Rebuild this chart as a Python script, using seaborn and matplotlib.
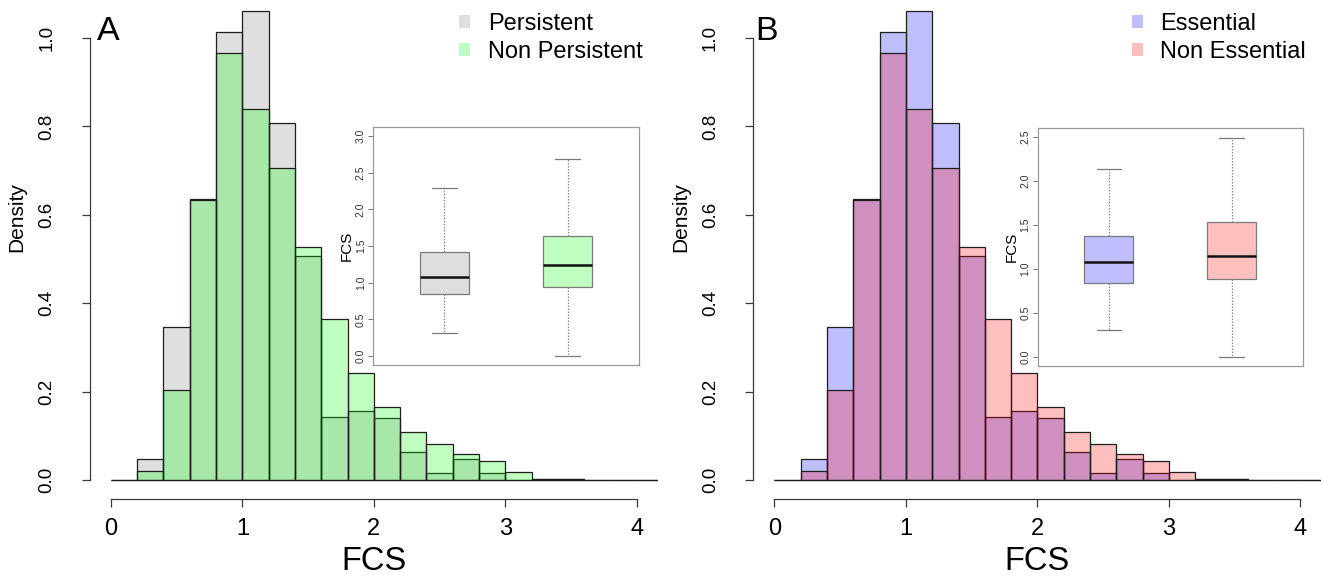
import numpy as np
import pandas as pd
import matplotlib
matplotlib.use("Agg")
import matplotlib.pyplot as plt
import seaborn as sns
from matplotlib.patches import Patch

# ---------------- data ----------------
bin_edges = [0.0, 0.2, 0.4, 0.6, 0.8, 1.0, 1.2, 1.4, 1.6, 1.8, 2.0, 2.2,
             2.4, 2.6, 2.8, 3.0, 3.2, 3.4, 3.6, 3.8, 4.0, 4.2, 4.4]

persistent_density = [0.0, 0.047, 0.347, 0.636, 1.014, 1.062, 0.808, 0.507,
                      0.142, 0.157, 0.141, 0.064, 0.016, 0.047, 0.016, 0.0,
                      0.002, 0.002, 0.0, 0.0, 0.0, 0.0]
nonpersistent_density = [0.0, 0.021, 0.204, 0.634, 0.966, 0.840, 0.707, 0.527,
                         0.365, 0.242, 0.166, 0.108, 0.082, 0.058, 0.044, 0.018,
                         0.002, 0.002, 0.0, 0.0, 0.0, 0.0]

essential_density = [0.0, 0.047, 0.347, 0.636, 1.014, 1.062, 0.808, 0.507,
                     0.142, 0.157, 0.141, 0.064, 0.016, 0.047, 0.016, 0.0,
                     0.002, 0.002, 0.0, 0.0, 0.0, 0.0]
nonessential_density = [0.0, 0.021, 0.204, 0.634, 0.966, 0.840, 0.707, 0.527,
                        0.365, 0.242, 0.166, 0.108, 0.082, 0.058, 0.044, 0.018,
                        0.002, 0.002, 0.0, 0.0, 0.0, 0.0]

# five-number summaries of the inset box plots: min whisker, Q1, median, Q3, max whisker
persistent_box = [0.318, 0.850, 1.082, 1.423, 2.295]
nonpersistent_box = [0.000, 0.945, 1.245, 1.640, 2.680]
essential_box = [0.311, 0.846, 1.081, 1.370, 2.136]
nonessential_box = [0.000, 0.888, 1.153, 1.529, 2.490]

x_ticks = [0, 1, 2, 3, 4]
y_ticks = [0.0, 0.2, 0.4, 0.6, 0.8, 1.0]
inset_a_ticks = [0.0, 0.5, 1.0, 1.5, 2.0, 2.5, 3.0]
inset_b_ticks = [0.0, 0.5, 1.0, 1.5, 2.0, 2.5]

# ---------------- style ----------------
sns.set_theme(style="white")
plt.rcParams["font.family"] = ["Liberation Sans", "DejaVu Sans"]
plt.rcParams["text.color"] = "black"
plt.rcParams["axes.labelcolor"] = "black"
plt.rcParams["xtick.color"] = "black"
plt.rcParams["ytick.color"] = "black"

W, H = 1323, 581
fig = plt.figure(figsize=(W / 100, H / 100), dpi=100)


def px_axes(left, top, right, bottom):
    return fig.add_axes([left / W, 1 - bottom / H, (right - left) / W, (bottom - top) / H])


AX_COL = "#3a3a3a"
EDGE = "#1e1e1e"

GRAY = (0.5, 0.5, 0.5, 0.25)
GREEN = (0.0, 1.0, 0.0, 0.25)
BLUE = (0.0, 0.0, 1.0, 0.25)
RED = (1.0, 0.0, 0.0, 0.25)


def hist_panel(ax, dens1, dens2, c1, c2):
    edges = np.array(bin_edges)
    centers = (edges[:-1] + edges[1:]) / 2
    for dens, col in ((dens1, c1), (dens2, c2)):
        sns.histplot(x=centers, weights=dens, bins=bin_edges, stat="count",
                     color=col[:3], alpha=col[3], edgecolor=EDGE, linewidth=0.9,
                     ax=ax)
    ax.set_xlim(-0.16, 4.16)
    ax.set_ylim(-0.042, 1.086)
    for s in ("top", "right"):
        ax.spines[s].set_visible(False)
    for s in ("left", "bottom"):
        ax.spines[s].set_color(AX_COL)
        ax.spines[s].set_linewidth(0.9)
    ax.spines["left"].set_bounds(0, 1)
    ax.spines["bottom"].set_bounds(0, 4)
    ax.set_xticks(x_ticks)
    ax.set_xticklabels([str(t) for t in x_ticks], fontsize=17)
    ax.set_yticks(y_ticks)
    ax.set_yticklabels([f"{t:.1f}" for t in y_ticks], fontsize=13.5,
                       rotation=90, va="center")
    ax.tick_params(axis="both", direction="out", length=5.8, width=0.9,
                   color=AX_COL, labelcolor="black", left=True, bottom=True)
    ax.tick_params(axis="y", pad=19)
    ax.tick_params(axis="x", pad=8)
    ax.set_xlabel("FCS", fontsize=23.5, color="black")
    ax.set_ylabel("Density", fontsize=15, color="black")
    ax.xaxis.set_label_coords(0.5, -0.095)
    ax.yaxis.set_label_coords(-0.112, 0.565)
    ax.grid(False)


def inset_panel(ax, box1, box2, c1, c2, ticks, ylim):
    df = pd.DataFrame({
        "group": ["g1"] * len(box1) + ["g2"] * len(box2),
        "FCS": list(box1) + list(box2),
    })
    sns.boxplot(data=df, x="group", y="FCS", hue="group",
                palette=[c1, c2], saturation=1, width=0.4, whis=(0, 100),
                linecolor="#7a7a7a", linewidth=0.9, legend=False, ax=ax,
                whiskerprops=dict(linestyle=(0, (1.2, 1.2)), color="#8a8a8a"),
                medianprops=dict(color="#111111", linewidth=1.8),
                capprops=dict(color="#7a7a7a"))
    ax.set_xlim(-0.58, 1.58)
    ax.set_ylim(*ylim)
    ax.set_facecolor("white")
    for s in ax.spines.values():
        s.set_visible(True)
        s.set_color("#9a9a9a")
        s.set_linewidth(0.9)
    ax.set_xticks([])
    ax.set_xlabel("")
    ax.set_yticks(ticks)
    ax.set_yticklabels([f"{t:.1f}" for t in ticks], fontsize=7.5,
                       rotation=90, va="center", color="#333333")
    ax.tick_params(axis="y", direction="out", length=3.6, width=0.7,
                   color="#7a7a7a", left=True, pad=1.5)
    ax.set_ylabel("FCS", fontsize=11, labelpad=1.5, color="black")
    ax.grid(False)


# ---------------- panel A ----------------
axA = px_axes(89.8, 0, 657.9, 498.6)
hist_panel(axA, persistent_density, nonpersistent_density, GRAY, GREEN)
insA = px_axes(373, 127, 639, 365)
inset_panel(insA, persistent_box, nonpersistent_box, "#dedede", "#bfffbf",
            inset_a_ticks, (-0.12, 3.12))

# ---------------- panel B ----------------
axB = px_axes(753.4, 0, 1321.4, 498.6)
hist_panel(axB, essential_density, nonessential_density, BLUE, RED)
insB = px_axes(1037.5, 128, 1303, 366)
inset_panel(insB, essential_box, nonessential_box, "#bfbfff", "#ffbfbf",
            inset_b_ticks, (-0.1, 2.6))

# ---------------- legends ----------------
leg_kw = dict(loc="upper left", bbox_transform=fig.transFigure, frameon=False,
              fontsize=17, borderpad=0, borderaxespad=0, handlelength=0.47,
              handleheight=0.47, handletextpad=0.75, labelspacing=0.26)
fig.legend(handles=[Patch(facecolor=GRAY, edgecolor="none", label="Persistent"),
                    Patch(facecolor=GREEN, edgecolor="none", label="Non Persistent")],
           bbox_to_anchor=(459 / W, 1 - 13 / H), **leg_kw)
fig.legend(handles=[Patch(facecolor=BLUE, edgecolor="none", label="Essential"),
                    Patch(facecolor=RED, edgecolor="none", label="Non Essential")],
           bbox_to_anchor=(1131.5 / W, 1 - 13 / H), **leg_kw)

# ---------------- panel letters ----------------
fig.text(97 / W, 1 - 40 / H, "A", fontsize=24.5, va="baseline", ha="left",
         color="black")
fig.text(755 / W, 1 - 40 / H, "B", fontsize=24.5, va="baseline", ha="left",
         color="black")

fig.savefig("out.png", dpi=100)
